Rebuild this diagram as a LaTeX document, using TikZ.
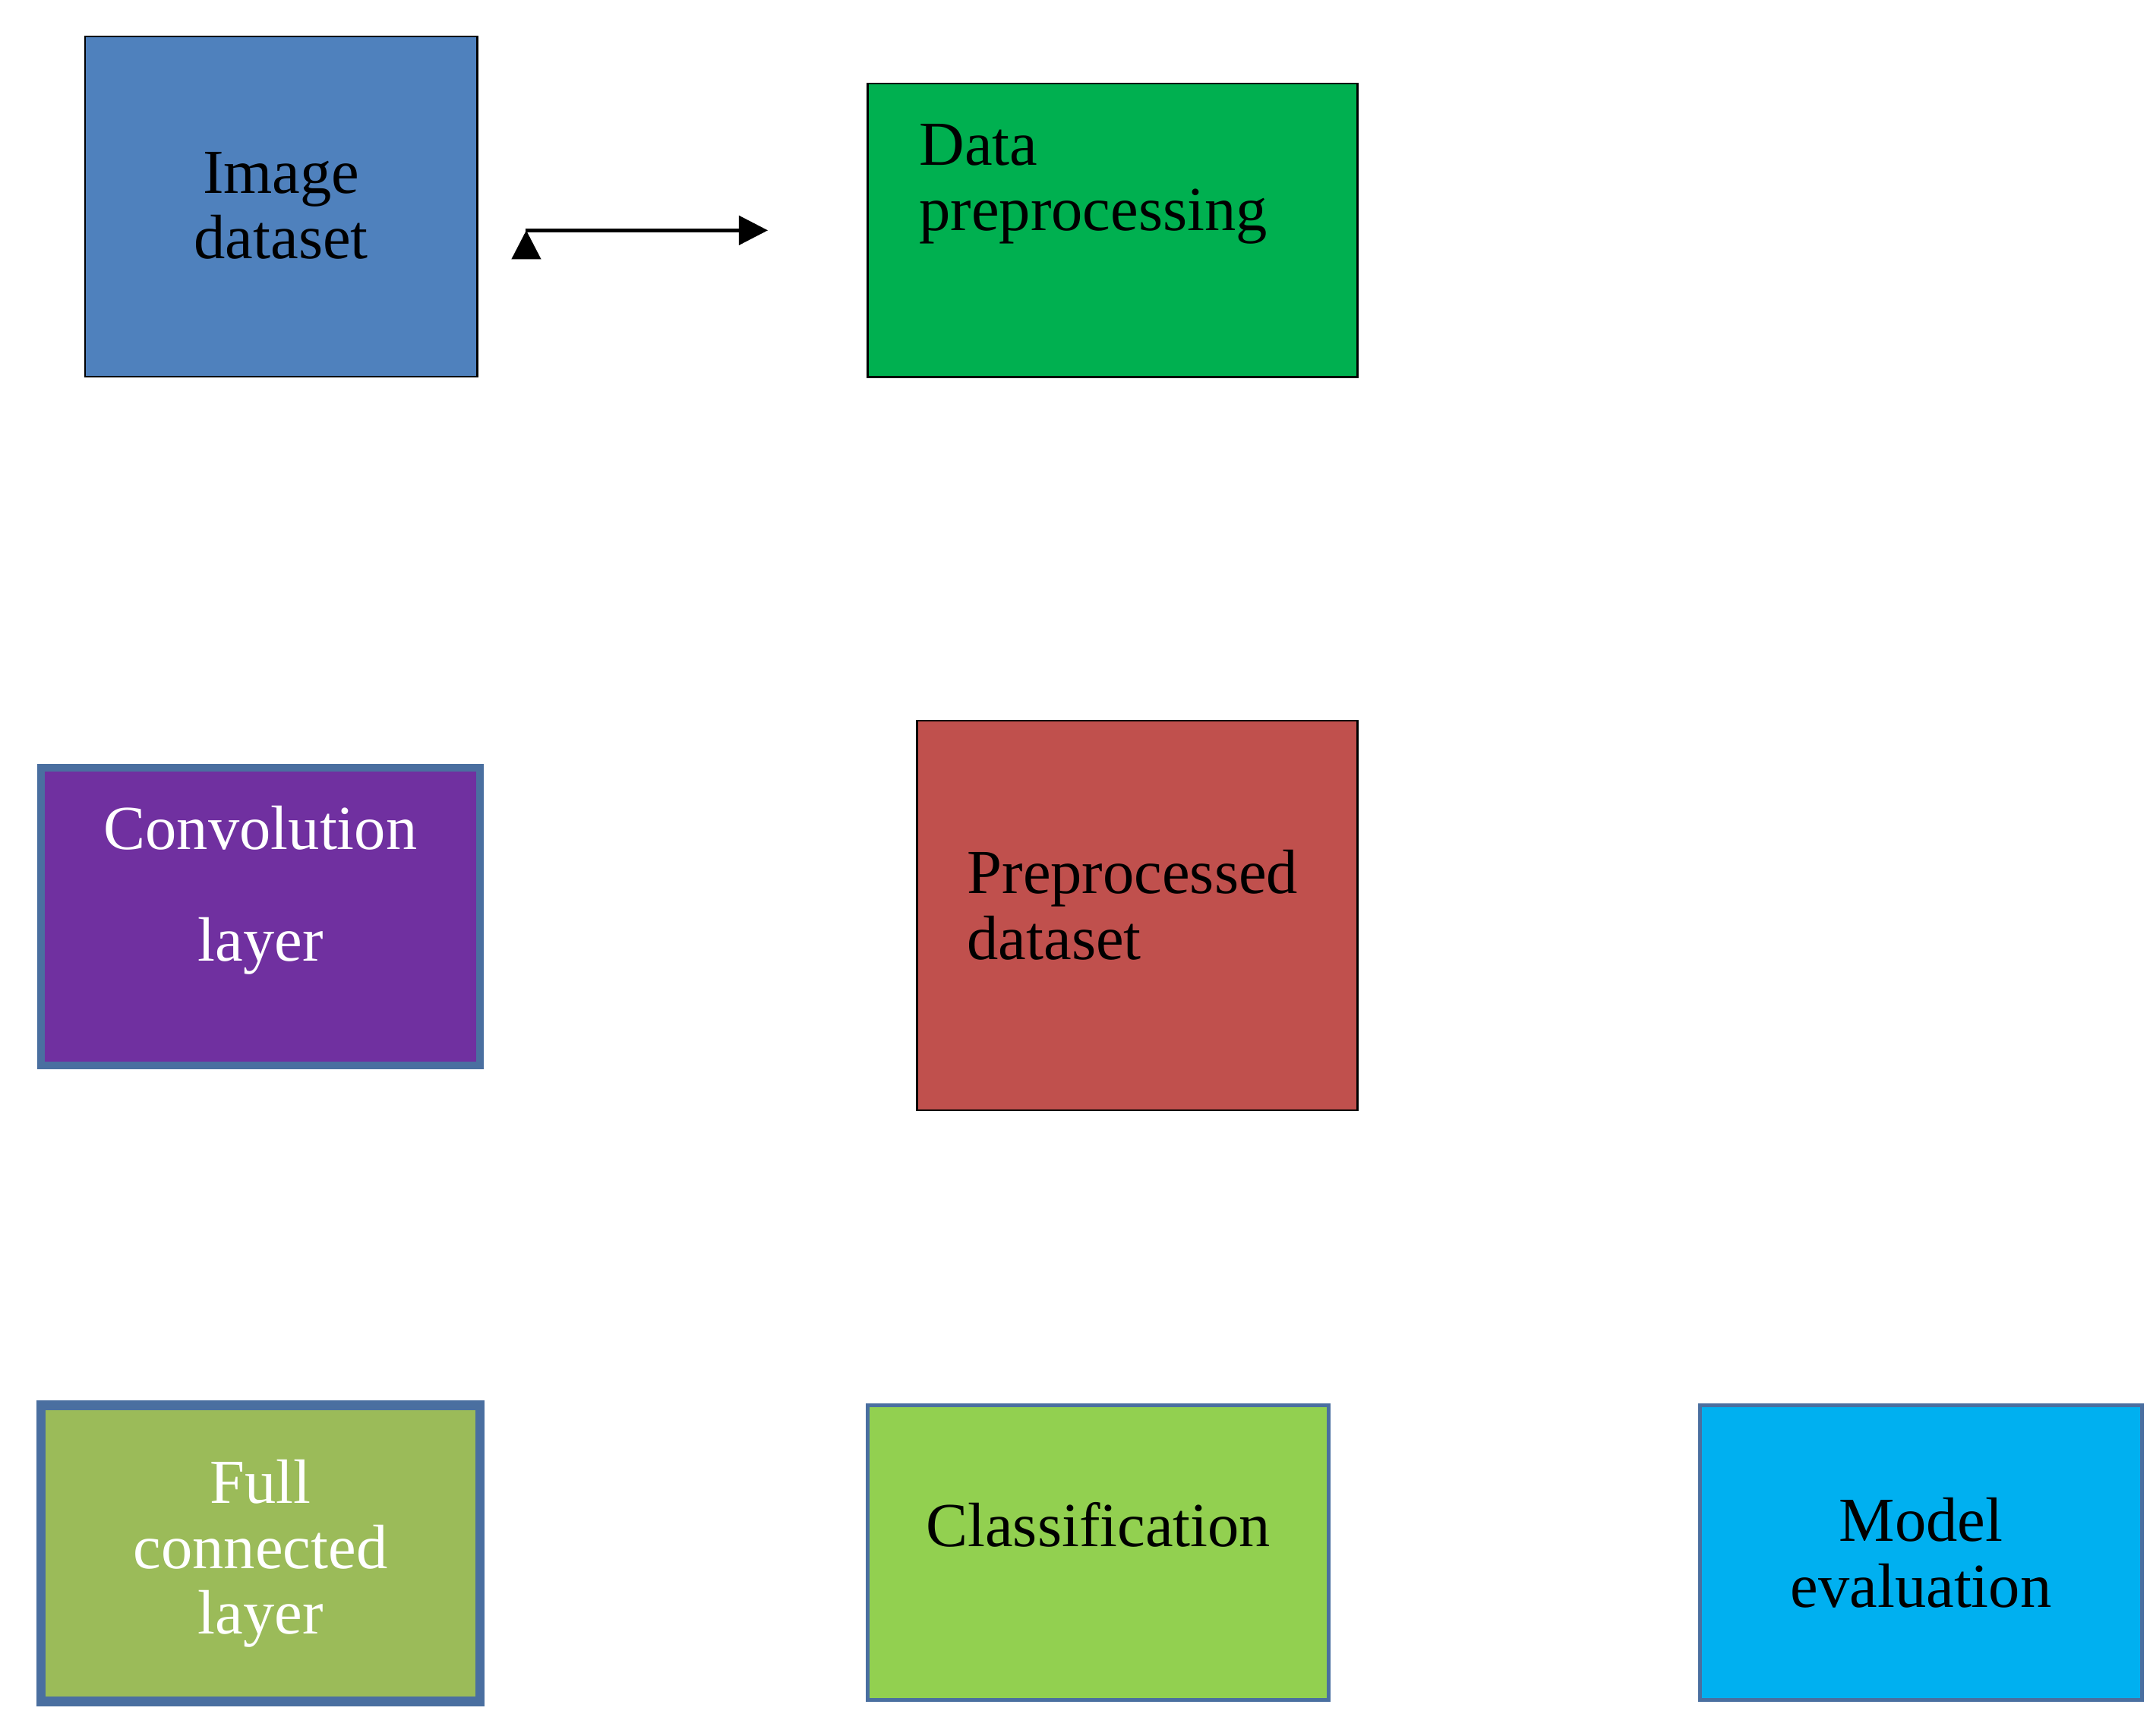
\documentclass[tikz,border=0pt]{standalone}
\usepackage{fontspec}
\setmainfont{Liberation Serif}
\usetikzlibrary{positioning,shapes.geometric,arrows.meta}
\definecolor{dsblue}{HTML}{4F81BD}
\definecolor{dsbluetop}{HTML}{95B3D7}
\definecolor{prepgreen}{HTML}{00B050}
\definecolor{dsred}{HTML}{C0504D}
\definecolor{dsredtop}{HTML}{DA9694}
\definecolor{convpurple}{HTML}{7030A0}
\definecolor{fcolive}{HTML}{9BBB59}
\definecolor{clsgreen}{HTML}{92D050}
\definecolor{evalblue}{HTML}{00B0F0}
\definecolor{edgeblue}{HTML}{4A6FA0}
\begin{document}
\begin{tikzpicture}[x=0.01cm,y=-0.01cm,
  every node/.style={font=\fontsize{13}{13.6}\selectfont},
  box/.style={draw,inner sep=0pt},
  db/.style={cylinder,shape border rotate=90,draw,cylinder uses custom fill,aspect=0.42,inner sep=0pt},
  flow/.style={-{Triangle[length=6pt,width=6pt]},line width=0.7pt}]
  \useasboundingbox (0,0) rectangle (1568,1266);
  % top row
  \node[db,cylinder body fill=dsblue,cylinder end fill=dsbluetop,minimum width=2.86cm,minimum height=2.48cm] (imgdata) at (205,151) {};
  \node[align=center] (imglabel) at (205,150) {Image\\dataset};
  \node[box,fill=prepgreen,minimum width=3.57cm,minimum height=2.14cm] (prep) at (811.5,168) {};
  \node[align=left,anchor=north west] (preplabel) at (658,78) {Data\\preprocessing};
  % middle row
  \node[db,cylinder body fill=dsred,cylinder end fill=dsredtop,minimum width=3.21cm,minimum height=2.84cm,aspect=0.44] (ppdata) at (829.5,668) {};
  \node[align=left,anchor=west] (pplabel) at (693,660) {Preprocessed\\dataset};
  \node[box,draw=edgeblue,line width=1.5pt,fill=convpurple,minimum width=3.2cm,minimum height=2.17cm] (conv) at (190,668.5) {};
  \node[text=white] (convlabel1) at (190,604) {Convolution};
  \node[text=white] (convlabel2) at (190,690) {layer};
  % bottom row
  \node[box,draw=edgeblue,line width=2pt,fill=fcolive,minimum width=3.2cm,minimum height=2.16cm,align=center,text=white] (fc) at (190,1133) {Full\\connected\\layer};
  \node[box,draw=edgeblue,line width=0.8pt,fill=clsgreen,minimum width=3.36cm,minimum height=2.15cm] (cls) at (801,1132.5) {};
  \node (clslabel) at (801,1112) {Classification};
  \node[box,draw=edgeblue,line width=0.8pt,fill=evalblue,minimum width=3.22cm,minimum height=2.15cm,align=center] (eval) at (1401,1132.5) {Model\\evaluation};
  % connectors
  \draw[flow,shorten <=35\pgflinewidth] (imgdata.east |- prep.west) ++(35,0) coordinate (a1) ;
  \draw[flow] (383,168) coordinate (s1) -- (560,168) coordinate (e1);
\end{tikzpicture}
\end{document}
